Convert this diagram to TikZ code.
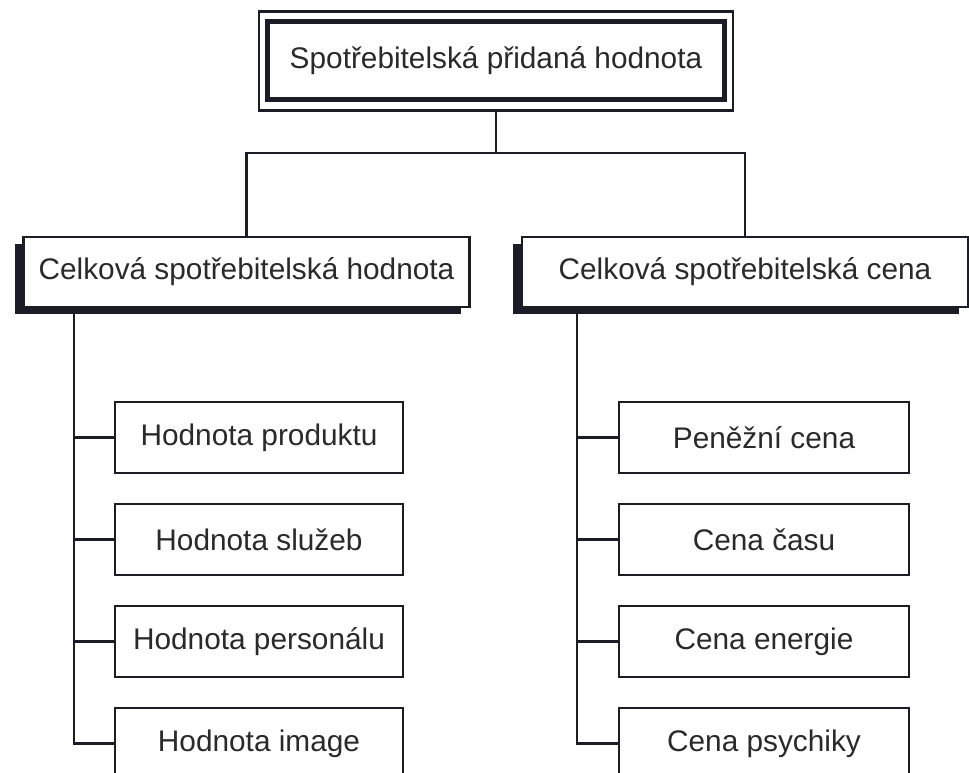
\documentclass[tikz,border=0pt]{standalone}
\usepackage{fontspec}
\setmainfont{Liberation Sans}
\usetikzlibrary{fit}
\definecolor{ink}{HTML}{1C1C26}
\definecolor{txt}{HTML}{2A2A2A}
\begin{document}
\begin{tikzpicture}[x=1pt,y=-1pt,
  every node/.style={inner sep=0pt, text=txt, font=\fontsize{29.8}{34}\selectfont},
  topbox/.style={draw=ink, line width=5pt, fill=white, minimum width=457pt, minimum height=78pt},
  frame/.style={draw=ink, line width=2.2pt, inner xsep=6pt, inner ysep=8pt},
  midbox/.style={draw=ink, line width=2.4pt, fill=white, minimum width=446pt, minimum height=70pt},
  shadowbox/.style={fill=ink, minimum width=446pt, minimum height=70pt},
  leafbox/.style={draw=ink, line width=2.5pt, fill=white, minimum width=288pt, minimum height=71pt},
  conn/.style={draw=ink, line width=2.5pt}]
\useasboundingbox (0,0) rectangle (969,773);
\clip (0,0) rectangle (969,773);
\fill[white] (0,0) rectangle (969,773);

% top
\node[topbox] (top) at (496,61) {Spotřebitelská přidaná hodnota};
\node[frame, fit=(top)] (topframe) {};

% middle level with shadows
\node[shadowbox] (lsh) at (237.5,279) {};
\node[midbox] (left) at (246.5,272) {Celková spotřebitelská hodnota};
\node[shadowbox] (rsh) at (736,279) {};
\node[midbox] (right) at (745,272) {Celková spotřebitelská cena};

\coordinate (j) at (496,153);
\draw[conn] (topframe.south) -- (j);
\draw[conn] (left.north) |- (j) -| (right.north);

% leaves left
\node[leafbox] (a1) at (259,437.5) {Hodnota produktu};
\node[leafbox] (a2) at (259,539.5) {Hodnota služeb};
\node[leafbox] (a3) at (259,641.5) {Hodnota personálu};
\node[leafbox] (a4) at (259,743.5) {Hodnota image};

% leaves right
\node[leafbox, minimum width=290pt] (b1) at (764,437.5) {Peněžní cena};
\node[leafbox, minimum width=290pt] (b2) at (764,539.5) {Cena času};
\node[leafbox, minimum width=290pt] (b3) at (764,641.5) {Cena energie};
\node[leafbox, minimum width=290pt] (b4) at (764,743.5) {Cena psychiky};

\coordinate (lv) at (74,313);
\coordinate (rv) at (577,313);
\draw[conn] (lv) |- (a4.west);
\draw[conn] (rv) |- (b4.west);
\foreach \i in {1,2,3}{
  \draw[conn] (a\i.west) -- (a\i.west -| lv);
  \draw[conn] (b\i.west) -- (b\i.west -| rv);
}
\end{tikzpicture}
\end{document}
